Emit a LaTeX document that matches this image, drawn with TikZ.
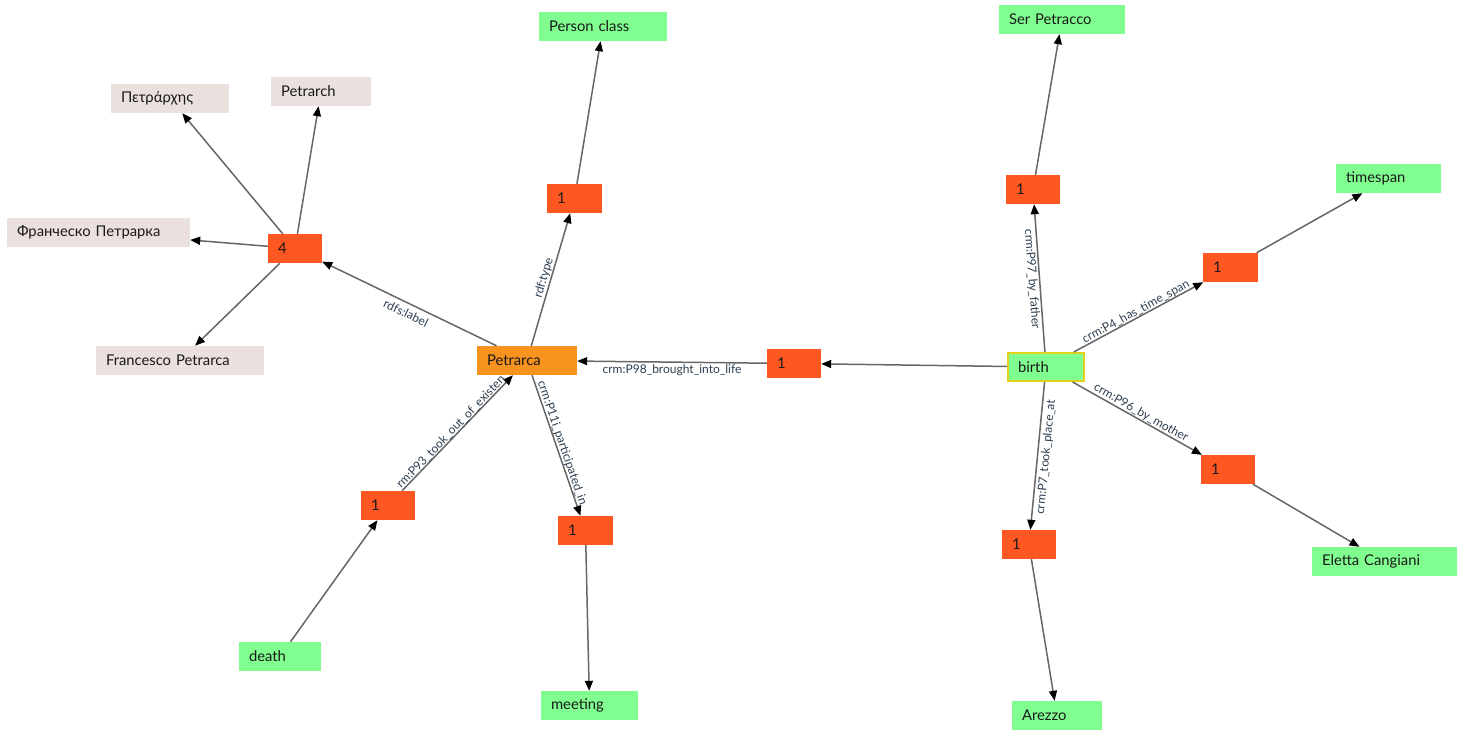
\documentclass[tikz,border=0pt]{standalone}
\usepackage{fontspec}
\setmainfont{Lato}
\usetikzlibrary{arrows.meta}
\definecolor{dor}{HTML}{FF5722}
\definecolor{gre}{HTML}{80FF90}
\definecolor{lab}{HTML}{EAE1DF}
\definecolor{pet}{HTML}{F7931E}
\definecolor{edg}{HTML}{666666}
\definecolor{lbl}{HTML}{2C3E50}
\definecolor{bord}{HTML}{E3D01C}
\tikzset{
  nd/.style={rectangle, inner xsep=10pt, inner ysep=0pt, minimum height=29pt, align=left,
    font=\fontsize{14.8}{16}\selectfont, text=black!90},
  cnt/.style={nd, fill=dor, text width=34pt},
  grn/.style={nd, fill=gre},
  lit/.style={nd, fill=lab},
  edge/.style={draw=edg, line width=1.5pt, -{Triangle[length=10pt,width=8pt,color=black,fill=black]}},
  elabel/.style={font=\fontsize{12}{13}\selectfont, text=lbl, inner sep=0pt}
}
\begin{document}
\begin{tikzpicture}[x=1pt,y=-1pt]
\useasboundingbox (0,0) rectangle (1465,740);
% nodes
\node[grn, text width=108pt] (pc) at (603,26.5) {Person class};
\node[lit, text width=98pt] (gr) at (170,98.5) {Πετράρχης};
\node[lit, text width=80pt] (pe) at (321,91.5) {Petrarch};
\node[lit, text width=163pt] (ru) at (98.5,232.5) {Франческо Петрарка};
\node[cnt] (l4) at (295,248.5) {4};
\node[lit, text width=148pt] (fp) at (180,360.5) {Francesco Petrarca};
\node[nd, fill=pet, text width=80pt] (pa) at (527,360.5) {Petrarca};
\node[cnt, text width=35pt] (t1) at (574.5,198.5) {1};
\node[cnt] (b1) at (794,363.5) {1};
\node[grn, text width=56pt, draw=bord, line width=2pt, minimum height=28pt] (bi) at (1046,367) {birth};
\node[grn, text width=106pt] (sp) at (1062,19.5) {Ser Petracco};
\node[cnt] (f1) at (1033,189.5) {1};
\node[grn, text width=85pt] (ts) at (1388.5,178.5) {timespan};
\node[cnt, text width=35pt] (ts1) at (1230.5,267.5) {1};
\node[cnt] (mo1) at (1228,469.5) {1};
\node[grn, text width=125pt] (ec) at (1384.5,561.5) {Eletta Cangiani};
\node[cnt] (p1) at (1029,544.5) {1};
\node[grn, text width=70pt] (ar) at (1057,715.5) {Arezzo};
\node[cnt] (d1) at (388,505.5) {1};
\node[grn, text width=62pt] (de) at (280,656.5) {death};
\node[cnt, text width=35pt] (m1) at (585.5,530.5) {1};
\node[grn, text width=77pt] (me) at (589.5,705.5) {meeting};
% edges
\draw[edge] (l4) -- (gr);
\draw[edge] (l4) -- (pe);
\draw[edge] (l4) -- (ru);
\draw[edge] (l4) -- (fp);
\draw[edge] (pa) -- (l4);
\draw[edge] (pa) -- (t1);
\draw[edge] (t1) -- (pc);
\draw[edge] (b1) -- (pa);
\draw[edge] (bi) -- (b1);
\draw[edge] (d1) -- (pa);
\draw[edge] (de) -- (d1);
\draw[edge] (pa) -- (m1);
\draw[edge] (m1) -- (me);
\draw[edge] (bi) -- (f1);
\draw[edge] (f1) -- (sp);
\draw[edge] (bi) -- (ts1);
\draw[edge] (ts1) -- (ts);
\draw[edge] (bi) -- (mo1);
\draw[edge] (mo1) -- (ec);
\draw[edge] (bi) -- (p1);
\draw[edge] (p1) -- (ar);
% edge labels
\node[elabel, rotate=-25.8] (lrl) at (406,313) {rdfs:label};
\node[elabel, rotate=73.7] (lrt) at (544,278) {rdf:type};
\node[elabel] (l98) at (672,370) {crm:P98\_brought\_into\_life};
\node[elabel, rotate=46.2] (l93) at (451,432) {rm:P93\_took\_out\_of\_existen};
\node[elabel, rotate=-71] (l11) at (562,443) {crm:P11i\_participated\_in};
\node[elabel, rotate=-85.8] (l97) at (1032,279) {crm:P97\_by\_father};
\node[elabel, rotate=28.3] (lp4) at (1136,312) {crm:P4\_has\_time\_span};
\node[elabel, rotate=-29.4] (l96) at (1141,413) {crm:P96\_by\_mother};
\node[elabel, rotate=84.5] (lp7) at (1046,457) {crm:P7\_took\_place\_at};
\end{tikzpicture}
\end{document}
